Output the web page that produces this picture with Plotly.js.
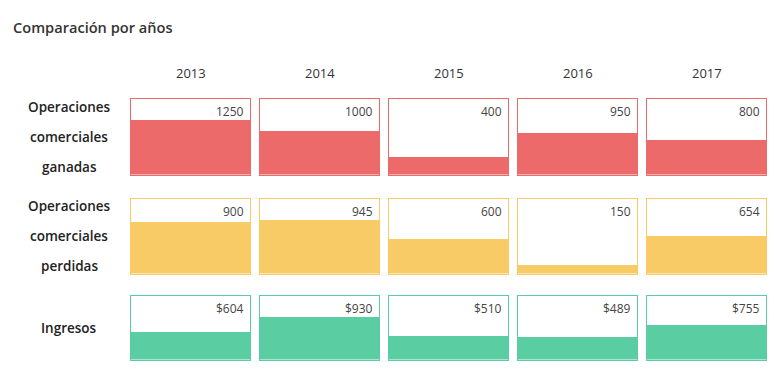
<!DOCTYPE html>
<html>
<head>
<meta charset="utf-8">
<script src="https://cdn.plot.ly/plotly-3.0.1.min.js"></script>
<style>html,body{margin:0;padding:0;background:#fff;}#chart{width:778px;height:377px;}</style>
</head>
<body>
<div id="chart"></div>
<script>
// ---- data ----
const years = ['2013', '2014', '2015', '2016', '2017'];
const ganadas = [1250, 1000, 400, 950, 800];
const perdidas = [900, 945, 600, 150, 654];
const ingresos = [604, 930, 510, 489, 755];
const ganadasLabel = ['Operaciones', 'comerciales', 'ganadas'];
const perdidasLabel = ['Operaciones', 'comerciales', 'perdidas'];
const ingresosLabel = ['Ingresos'];
const chartTitle = 'Comparación por años';

// ---- layout geometry (pixels) ----
const W = 778, H = 377;
const colLeft = [131, 260, 389, 518, 647];
const colWidth = 119;
const rowsDef = [
  {values: ganadas, labels: ganadasLabel, prefix: '', color: '#EC6A6A', top: 99, bottom: 174.5, labelYs: [107, 137, 167]},
  {values: perdidas, labels: perdidasLabel, prefix: '', color: '#F9CB67', top: 198.5, bottom: 273.5, labelYs: [206, 236, 266]},
  {values: ingresos, labels: ingresosLabel, prefix: '$', color: '#5ACEA2', top: 295.5, bottom: 359.5, labelYs: [328]}
];
const headroom = 21; // px reserved for the value label

const px = x => x / W;
const py = y => 1 - y / H;
const FONT = '"Open Sans", Lato, sans-serif';

const data = [];
const layout = {
  width: W, height: H,
  margin: {l: 0, r: 0, t: 0, b: 0},
  paper_bgcolor: '#fff', plot_bgcolor: '#fff',
  showlegend: false,
  bargap: 0,
  font: {family: FONT, color: '#333'},
  annotations: [],
  hovermode: false
};

layout.annotations.push({
  text: chartTitle, xref: 'paper', yref: 'paper', x: px(11), y: py(27),
  xanchor: 'left', yanchor: 'middle', showarrow: false,
  font: {size: 14.6, color: '#333', family: FONT, weight: 600}
});

years.forEach((yr, c) => {
  layout.annotations.push({
    text: yr, xref: 'paper', yref: 'paper', x: px(colLeft[c] + colWidth / 2), y: py(73),
    xanchor: 'center', yanchor: 'middle', showarrow: false,
    font: {size: 13, color: '#333'}
  });
});

let idx = 0;
rowsDef.forEach((row, r) => {
  const hpx = row.bottom - row.top;
  const maxV = Math.max(...row.values);
  const yMax = maxV * hpx / (hpx - headroom);
  row.labels.forEach((t, k) => {
    layout.annotations.push({
      text: t, xref: 'paper', yref: 'paper', x: px(69), y: py(row.labelYs[k]),
      xanchor: 'center', yanchor: 'middle', showarrow: false,
      font: {size: 13.5, color: '#222', weight: 600}
    });
  });
  row.values.forEach((v, c) => {
    idx++;
    const xa = idx === 1 ? 'xaxis' : 'xaxis' + idx;
    const ya = idx === 1 ? 'yaxis' : 'yaxis' + idx;
    const xr = idx === 1 ? 'x' : 'x' + idx;
    const yr = idx === 1 ? 'y' : 'y' + idx;
    data.push({
      type: 'bar', x: [0], y: [v], width: [1],
      xaxis: xr, yaxis: yr,
      marker: {color: row.color, line: {width: 0}},
      hoverinfo: 'skip'
    });
    layout[xa] = {
      domain: [px(colLeft[c]), px(colLeft[c] + colWidth)], range: [-0.5, 0.5],
      anchor: yr, showline: true, mirror: true, linecolor: row.color, linewidth: 1,
      showgrid: false, zeroline: false, showticklabels: false, ticks: '', fixedrange: true
    };
    layout[ya] = {
      domain: [py(row.bottom), py(row.top)], range: [0, yMax],
      anchor: xr, showline: true, mirror: true, linecolor: row.color, linewidth: 1,
      showgrid: false, zeroline: false, showticklabels: false, ticks: '', fixedrange: true
    };
    layout.annotations.push({
      text: row.prefix + v, xref: xr + ' domain', yref: yr + ' domain',
      x: 1, y: 1, xshift: -4, yshift: -2, xanchor: 'right', yanchor: 'top',
      showarrow: false, font: {size: 12, color: '#444'}
    });
  });
});

Plotly.newPlot('chart', data, layout, {displayModeBar: false, staticPlot: true});
</script>
</body>
</html>
